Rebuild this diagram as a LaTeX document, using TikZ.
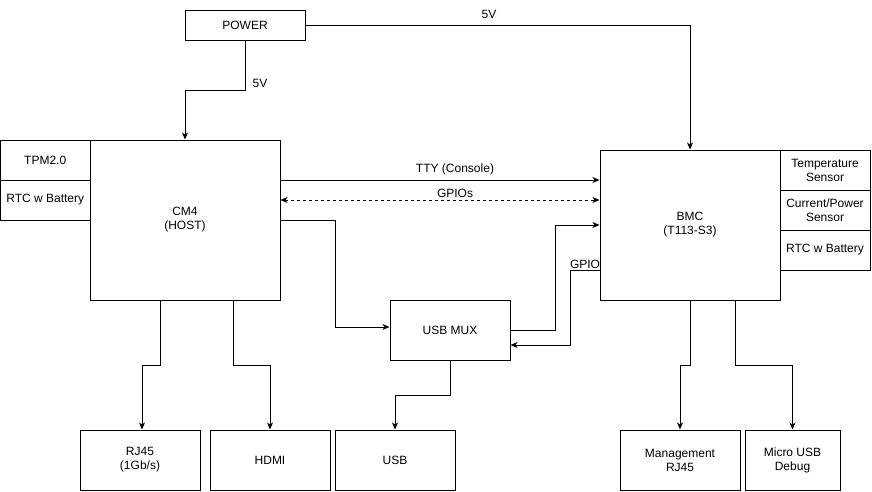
\documentclass[tikz,border=0pt]{standalone}
\usepackage{fontspec}
\setmainfont{Liberation Sans}
\usetikzlibrary{arrows.meta}
\begin{document}
\begin{tikzpicture}[x=1pt,y=-1pt,
  box/.style={draw=black,line width=1pt,inner sep=0pt,align=center,font=\fontsize{12}{14}\selectfont},
  lbl/.style={inner sep=0pt,font=\fontsize{12}{14}\selectfont},
  arr/.style={draw=black,line width=1pt,-{Stealth[length=7pt,width=6pt,inset=2pt]}},
  darr/.style={arr,{Stealth[length=7pt,width=6pt,inset=2pt]}-{Stealth[length=7pt,width=6pt,inset=2pt]},dash pattern=on 3pt off 3pt}]
\useasboundingbox (0,0) rectangle (872,491);
% boxes
\node[box,minimum width=120,minimum height=30] (power) at (245,25) {POWER};
\node[box,minimum width=190,minimum height=160] (cm4) at (185,220) {CM4\\(HOST)};
\node[box,minimum width=89.5,minimum height=40] (tpm) at (45.25,160) {TPM2.0};
\node[box,minimum width=89.5,minimum height=40] (rtca) at (45.25,200) {RTC w Battery};
\node[box,minimum width=180,minimum height=150] (bmc) at (690,225) {BMC\\(T113-S3)};
\node[box,minimum width=90,minimum height=40] (temp) at (825,170) {Temperature\\Sensor};
\node[box,minimum width=90,minimum height=40] (curr) at (825,210) {Current/Power\\Sensor};
\node[box,minimum width=90,minimum height=40] (rtcb) at (825,250) {RTC w Battery};
\node[box,minimum width=120,minimum height=60] (mux) at (450,330) {USB MUX};
\node[box,minimum width=120,minimum height=60] (rj45) at (140,460) {RJ45\\(1Gb/s)};
\node[box,minimum width=120,minimum height=60] (hdmi) at (270,460) {HDMI};
\node[box,minimum width=120,minimum height=60] (usb) at (395,460) {USB};
\node[box,minimum width=120,minimum height=60] (mgmt) at (680,460) {Management\\RJ45};
\node[box,minimum width=95,minimum height=60] (micro) at (792.5,460) {Micro USB\\Debug};
% connectors
\draw[arr] (power.south) -- ++(0,50) -| (cm4.north);
\node[lbl] (l5va) at (260,83) {5V};
\draw[arr] (power.east) -| (bmc.north);
\node[lbl] (l5vb) at (489,14) {5V};
\draw[arr] ([yshift=40pt]cm4.east) -- ([yshift=45pt]bmc.west);
\node[lbl] (ltty) at (455,169) {TTY (Console)};
\draw[darr] ([yshift=20pt]cm4.east) -- ([yshift=25pt]bmc.west);
\node[lbl] (lgpios) at (455,193) {GPIOs};
\draw[arr] (cm4.east) -- ++(55,0) |- ([yshift=3pt]mux.west);
\draw[arr] (mux.east) -- ++(45,0) |- (bmc.west);
\draw[arr] ([yshift=-45pt]bmc.west) -- ++(-29,0) |- ([yshift=-15pt]mux.east);
\node[lbl] (lgpio) at (585,264) {GPIO};
\draw[arr] ([xshift=-25pt]cm4.south) -- ++(0,65) -| ([xshift=2pt]rj45.north);
\draw[arr] ([xshift=48pt]cm4.south) -- ++(0,65) -| (hdmi.north);
\draw[arr] (mux.south) -- ++(0,35) -| (usb.north);
\draw[arr] (bmc.south) -- ++(0,65) -| (mgmt.north);
\draw[arr] ([xshift=45pt]bmc.south) -- ++(0,65) -| (micro.north);
\end{tikzpicture}
\end{document}
